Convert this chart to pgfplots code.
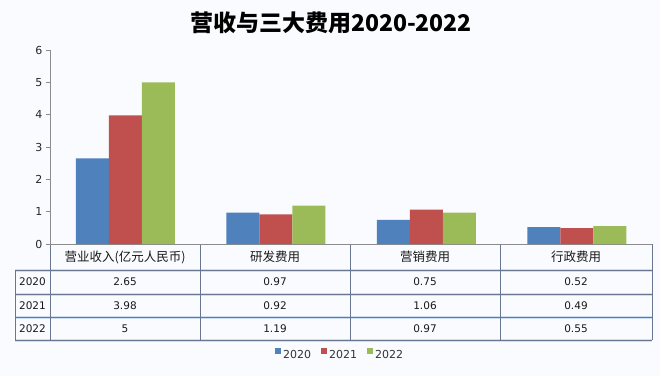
\documentclass[border=0pt]{standalone}
\usepackage{pgfplots}
\pgfplotsset{compat=1.18}
\usepackage{fontspec}
\setmainfont{DejaVu Sans}
\newfontfamily\cjk{Noto Sans CJK SC}
\definecolor{c1}{RGB}{79,129,189}
\definecolor{c2}{RGB}{192,80,77}
\definecolor{c3}{RGB}{155,187,89}
\definecolor{bg}{RGB}{250,251,254}
\definecolor{tline}{RGB}{105,118,145}
\definecolor{glow}{RGB}{205,222,245}
\begin{document}
\begin{tikzpicture}[x=1pt,y=1pt]
\fill[bg] (0,0) rectangle (660,376);
% title
\node[font=\cjk\bfseries\fontsize{23}{26}\selectfont] at (331,353) {营收与三大费用2020-2022};
% table glow
\begin{scope}[glow,line width=3pt]
\draw (15,106) -- (652,106);
\draw (15,82) -- (652,82);
\draw (15,59) -- (652,59);
\draw (15,36) -- (652,36);
\end{scope}
% table lines
\begin{scope}[tline,line width=0.8pt]
\draw (15,106) -- (652,106);
\draw (15,82) -- (652,82);
\draw (15,59) -- (652,59);
\draw (15,36) -- (652,36);
\draw (15,106) -- (15,36);
\draw (50,132) -- (50,36);
\draw (200,132) -- (200,36);
\draw (350,132) -- (350,36);
\draw (500,132) -- (500,36);
\draw (652,132) -- (652,36);
\end{scope}
\begin{axis}[
  at={(50pt,132pt)}, anchor=south west,
  scale only axis, width=602pt, height=194pt,
  xmin=-0.5, xmax=3.5, ymin=0, ymax=6,
  ybar=0pt, bar width=33pt,
  axis x line*=bottom, axis y line*=left,
  axis line style={-, black!45, line width=0.8pt},
  xtick=\empty, ytick={0,1,2,3,4,5,6},
  tick align=outside, major tick length=4pt,
  ytick style={black!45, line width=0.6pt},
  yticklabel style={font=\fontsize{11}{13}\selectfont, text=black!85},
  /pgf/number format/assume math mode=true,
  clip=false,
  legend columns=3,
  legend style={at={(0.482,-0.572)}, anchor=center, draw=none, fill=none,
    font=\fontsize{11}{13}\selectfont, text=black!80,
    /tikz/every even column/.append style={column sep=8pt}},
  legend image code/.code={\fill[#1] (2pt,1.2pt) rectangle (8pt,7.2pt);},
]
\addplot[fill=c1, draw=none] coordinates {(0,2.65) (1,0.97) (2,0.75) (3,0.52)};
\addplot[fill=c2, draw=none] coordinates {(0,3.98) (1,0.92) (2,1.06) (3,0.49)};
\addplot[fill=c3, draw=none] coordinates {(0,5) (1,1.19) (2,0.97) (3,0.55)};
\legend{2020,2021,2022}
\end{axis}
% table text
\begin{scope}[every node/.style={font=\fontsize{10.5}{12}\selectfont, text=black!90}]
\node[font=\cjk\fontsize{12.5}{14}\selectfont] at (125,119) {营业收入(亿元人民币)};
\node[font=\cjk\fontsize{12.5}{14}\selectfont] at (275,119) {研发费用};
\node[font=\cjk\fontsize{12.5}{14}\selectfont] at (425,119) {营销费用};
\node[font=\cjk\fontsize{12.5}{14}\selectfont] at (576,119) {行政费用};
\node at (32.5,94) {2020};
\node at (32.5,70) {2021};
\node at (32.5,47.5) {2022};
\node at (125,94) {2.65};
\node at (125,70) {3.98};
\node at (125,47.5) {5};
\node at (275,94) {0.97};
\node at (275,70) {0.92};
\node at (275,47.5) {1.19};
\node at (425,94) {0.75};
\node at (425,70) {1.06};
\node at (425,47.5) {0.97};
\node at (576,94) {0.52};
\node at (576,70) {0.49};
\node at (576,47.5) {0.55};
\end{scope}
\end{tikzpicture}
\end{document}
